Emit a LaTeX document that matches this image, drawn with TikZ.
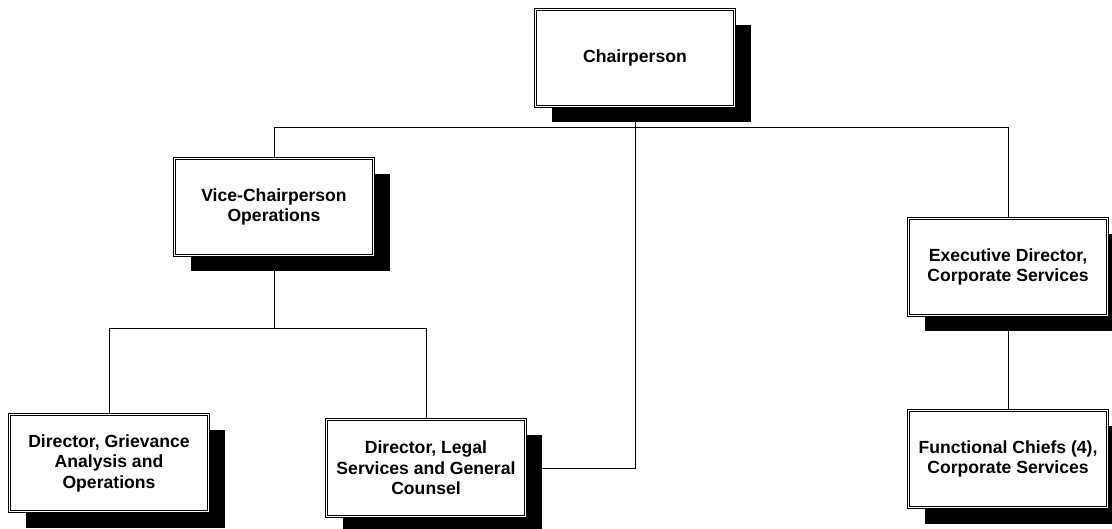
\documentclass[tikz,border=0pt]{standalone}
\usepackage{fontspec}
\setmainfont{Liberation Sans}
\usetikzlibrary{shadows}
\begin{document}
\begin{tikzpicture}[x=1pt, y=-1pt,
		office/.style={rectangle, draw=black, line width=0.6pt, double=white, double distance=1.6pt, fill=white, minimum width=199pt, minimum height=97pt, inner sep=2pt, align=center, font=\fontsize{17.6}{20.5}\selectfont\bfseries, drop shadow={shadow xshift=16pt, shadow yshift=-16pt, fill=black, opacity=1}},
		wire/.style={line width=0.7pt, draw=black}]
		\useasboundingbox (0,0) rectangle (1112,529);
		% boxes
		\node[office](chair) at (635,58){Chairperson};
		\node[office](vice) at (274,207){Vice-Chairperson\\Operations};
		\node[office](exec) at (1008,267){Executive Director,\\Corporate Services};
		\node[office](griev) at (109,463){Director, Grievance\\Analysis and\\Operations};
		\node[office](legal) at (426,468){Director, Legal\\Services and General\\Counsel};
		\node[office](chiefs) at (1008,459){Functional Chiefs (4),\\Corporate Services};
		\coordinate (topbar) at (0,127);
		\coordinate (lowbar) at (0,328);
		% reporting lines
		\draw[wire] (vice.north) -- (vice.north |- topbar) -| (exec.north);
		\draw[wire] (chair.south) -- (chair.south |- legal.east) -- (legal.east);
		\draw[wire] (vice.south) -- (vice.south |- lowbar);
		\draw[wire] (griev.north) -- (griev.north |- lowbar) -| (legal.north);
		\draw[wire] (exec.south) -- (chiefs.north);
	\end{tikzpicture}
\end{document}
